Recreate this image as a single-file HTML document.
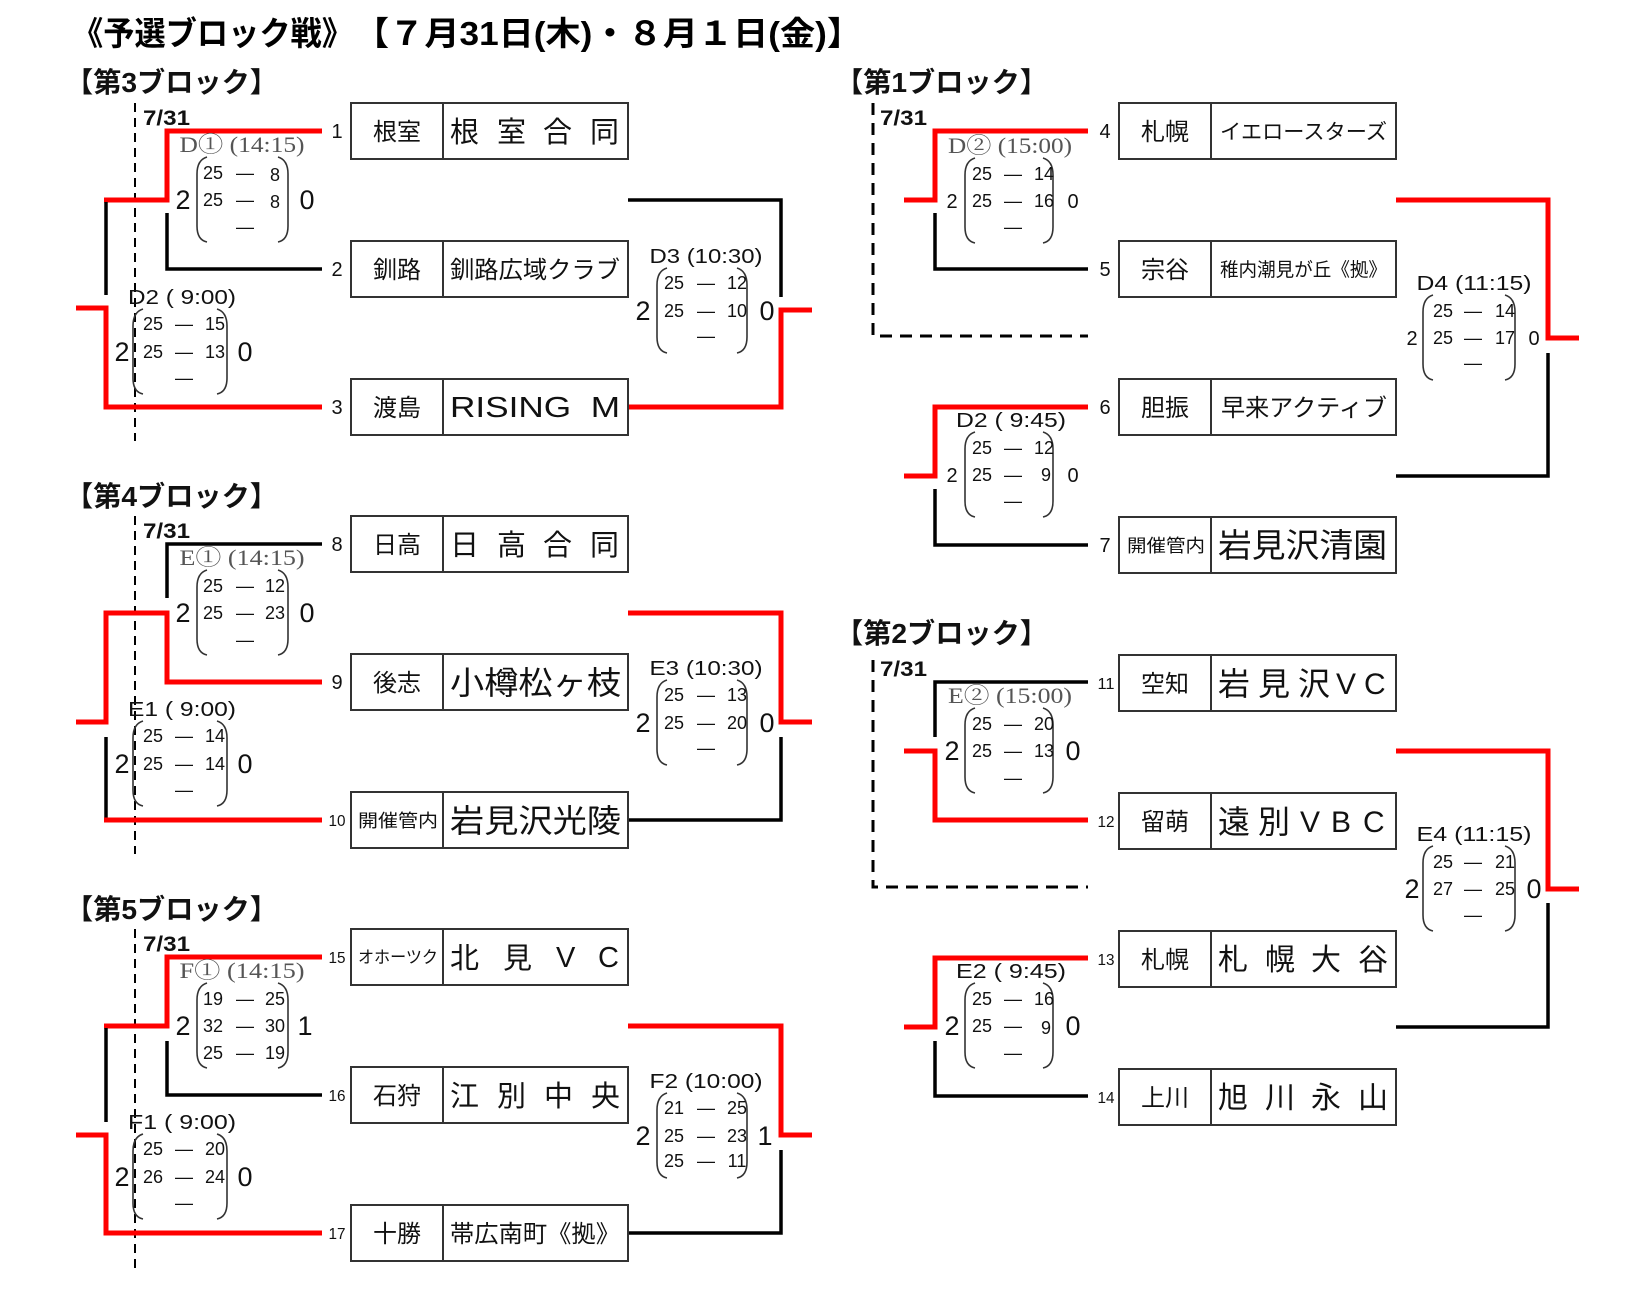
<!DOCTYPE html>
<html><head><meta charset="utf-8"><style>
html,body{margin:0;padding:0;background:#fff;}
svg{display:block;}
.jp{font-family:"Liberation Sans","Noto Sans CJK JP",sans-serif;}
.r{stroke:#ff0000;stroke-width:5;fill:none;stroke-linejoin:miter;}
.k{stroke:#000;stroke-width:3.5;fill:none;stroke-linejoin:miter;}
.dL{stroke:#000;stroke-width:2;fill:none;stroke-dasharray:9 6;}
.dR{stroke:#000;stroke-width:3;fill:none;stroke-dasharray:12 8;}
.box{stroke:#333;stroke-width:2;fill:none;}
.paren{stroke:#333;stroke-width:1.6;fill:none;}
.sc{font-family:"Liberation Sans",sans-serif;font-size:18px;text-anchor:middle;fill:#111;}
.big{font-family:"Liberation Sans",sans-serif;font-size:27px;text-anchor:middle;fill:#111;}
.mid{font-family:"Liberation Sans",sans-serif;font-size:20px;text-anchor:middle;fill:#111;}
.lbl{font-family:"Liberation Sans",sans-serif;font-size:20px;text-anchor:middle;fill:#111;white-space:pre;}
.lblS{font-family:"Liberation Serif","Noto Serif CJK SC",serif;font-size:22px;text-anchor:middle;fill:#555;white-space:pre;}
.num{font-family:"Liberation Sans",sans-serif;font-size:20px;text-anchor:middle;fill:#111;}
.numS{font-family:"Liberation Sans",sans-serif;font-size:16px;text-anchor:middle;fill:#111;}
.cell{font-family:"Liberation Sans","Noto Sans CJK JP",sans-serif;font-size:24px;text-anchor:middle;fill:#111;}
.name{font-family:"Liberation Sans","Noto Sans CJK JP",sans-serif;fill:#111;}
.date{font-family:"Liberation Sans",sans-serif;font-weight:bold;font-size:21px;fill:#111;}
.hdr{font-family:"Liberation Sans","Noto Sans CJK JP",sans-serif;font-weight:bold;font-size:28px;fill:#111;}
</style></head><body>
<svg width="1630" height="1292" viewBox="0 0 1630 1292" xmlns="http://www.w3.org/2000/svg">
<rect x="0" y="0" width="1630" height="1292" fill="#fff"/>

<!-- Title -->
<text class="jp" x="72" y="45" font-size="33" font-weight="bold" textLength="281" lengthAdjust="spacingAndGlyphs">《予選ブロック戦》</text>
<text class="jp" x="354" y="45" font-size="33" font-weight="bold" textLength="508" lengthAdjust="spacingAndGlyphs">【７月31日(木)・８月１日(金)】</text>

<!-- Block headers -->
<text class="hdr" x="65" y="92" textLength="213" lengthAdjust="spacingAndGlyphs">【第3ブロック】</text>
<text class="hdr" x="65" y="506" textLength="213" lengthAdjust="spacingAndGlyphs">【第4ブロック】</text>
<text class="hdr" x="65" y="919" textLength="213" lengthAdjust="spacingAndGlyphs">【第5ブロック】</text>
<text class="hdr" x="835" y="92" textLength="213" lengthAdjust="spacingAndGlyphs">【第1ブロック】</text>
<text class="hdr" x="835" y="643" textLength="213" lengthAdjust="spacingAndGlyphs">【第2ブロック】</text>

<!-- Dates -->
<text class="date" x="143" y="125" textLength="47" lengthAdjust="spacingAndGlyphs">7/31</text>
<text class="date" x="143" y="538" textLength="47" lengthAdjust="spacingAndGlyphs">7/31</text>
<text class="date" x="143" y="951" textLength="47" lengthAdjust="spacingAndGlyphs">7/31</text>
<text class="date" x="880" y="125" textLength="47" lengthAdjust="spacingAndGlyphs">7/31</text>
<text class="date" x="880" y="676" textLength="47" lengthAdjust="spacingAndGlyphs">7/31</text>

<!-- Dashed lines -->
<line class="dL" x1="135" y1="103" x2="135" y2="441"/>
<line class="dL" x1="135" y1="516" x2="135" y2="854"/>
<line class="dL" x1="135" y1="929" x2="135" y2="1268"/>
<path class="dR" d="M873,103 V336 H1088"/>
<path class="dR" d="M873,660 V887 H1088"/>

<!-- Left block 3 lines -->
<polyline class="r" points="322,131 167,131 167,200 104,200"/>
<polyline class="k" points="167,213 167,269 322,269"/>
<polyline class="k" points="106,202 106,295"/>
<polyline class="r" points="76,308 106,308 106,407 322,407"/>
<polyline class="k" points="628,200 781,200 781,297"/>
<polyline class="r" points="628,407 781,407 781,310 812,310"/>

<!-- Left block 4 lines -->
<polyline class="k" points="322,544 167,544 167,598"/>
<polyline class="r" points="76,722 106,722 106,613 167,613 167,682 322,682"/>
<polyline class="k" points="106,737 106,820"/>
<polyline class="r" points="104,820 322,820"/>
<polyline class="r" points="628,613 781,613 781,722 812,722"/>
<polyline class="k" points="628,820 781,820 781,737"/>

<!-- Left block 5 lines -->
<polyline class="r" points="322,957 167,957 167,1026 104,1026"/>
<polyline class="k" points="167,1041 167,1095 322,1095"/>
<polyline class="k" points="106,1028 106,1122"/>
<polyline class="r" points="76,1135 106,1135 106,1233 322,1233"/>
<polyline class="r" points="628,1026 781,1026 781,1135 812,1135"/>
<polyline class="k" points="628,1233 781,1233 781,1150"/>

<!-- Right block 1 lines -->
<polyline class="r" points="1088,131 935,131 935,200 904,200"/>
<polyline class="k" points="935,213 935,269 1088,269"/>
<polyline class="r" points="1088,407 935,407 935,476 904,476"/>
<polyline class="k" points="935,489 935,545 1088,545"/>
<polyline class="r" points="1396,200 1548,200 1548,338 1579,338"/>
<polyline class="k" points="1396,476 1548,476 1548,353"/>

<!-- Right block 2 lines -->
<polyline class="k" points="1088,682 935,682 935,737"/>
<polyline class="r" points="904,751 935,751 935,820 1088,820"/>
<polyline class="r" points="1088,958 935,958 935,1027 904,1027"/>
<polyline class="k" points="935,1041 935,1096 1088,1096"/>
<polyline class="r" points="1396,751 1548,751 1548,889 1579,889"/>
<polyline class="k" points="1396,1027 1548,1027 1548,903"/>

<!-- Left boxes -->
<g>
<rect class="box" x="351" y="103" width="277" height="56"/><line class="box" x1="443" y1="103" x2="443" y2="159"/>
<rect class="box" x="351" y="241" width="277" height="56"/><line class="box" x1="443" y1="241" x2="443" y2="297"/>
<rect class="box" x="351" y="379" width="277" height="56"/><line class="box" x1="443" y1="379" x2="443" y2="435"/>
<rect class="box" x="351" y="516" width="277" height="56"/><line class="box" x1="443" y1="516" x2="443" y2="572"/>
<rect class="box" x="351" y="654" width="277" height="56"/><line class="box" x1="443" y1="654" x2="443" y2="710"/>
<rect class="box" x="351" y="792" width="277" height="56"/><line class="box" x1="443" y1="792" x2="443" y2="848"/>
<rect class="box" x="351" y="929" width="277" height="56"/><line class="box" x1="443" y1="929" x2="443" y2="985"/>
<rect class="box" x="351" y="1067" width="277" height="56"/><line class="box" x1="443" y1="1067" x2="443" y2="1123"/>
<rect class="box" x="351" y="1205" width="277" height="56"/><line class="box" x1="443" y1="1205" x2="443" y2="1261"/>
</g>
<!-- Right boxes -->
<g>
<rect class="box" x="1119" y="103" width="277" height="56"/><line class="box" x1="1211" y1="103" x2="1211" y2="159"/>
<rect class="box" x="1119" y="241" width="277" height="56"/><line class="box" x1="1211" y1="241" x2="1211" y2="297"/>
<rect class="box" x="1119" y="379" width="277" height="56"/><line class="box" x1="1211" y1="379" x2="1211" y2="435"/>
<rect class="box" x="1119" y="517" width="277" height="56"/><line class="box" x1="1211" y1="517" x2="1211" y2="573"/>
<rect class="box" x="1119" y="655" width="277" height="56"/><line class="box" x1="1211" y1="655" x2="1211" y2="711"/>
<rect class="box" x="1119" y="793" width="277" height="56"/><line class="box" x1="1211" y1="793" x2="1211" y2="849"/>
<rect class="box" x="1119" y="931" width="277" height="56"/><line class="box" x1="1211" y1="931" x2="1211" y2="987"/>
<rect class="box" x="1119" y="1069" width="277" height="56"/><line class="box" x1="1211" y1="1069" x2="1211" y2="1125"/>
</g>

<!-- Left numbers -->
<text class="num" x="337" y="138">1</text>
<text class="num" x="337" y="276">2</text>
<text class="num" x="337" y="414">3</text>
<text class="num" x="337" y="551">8</text>
<text class="num" x="337" y="689">9</text>
<text class="numS" x="337" y="826" textLength="17" lengthAdjust="spacingAndGlyphs">10</text>
<text class="numS" x="337" y="963" textLength="17" lengthAdjust="spacingAndGlyphs">15</text>
<text class="numS" x="337" y="1101" textLength="17" lengthAdjust="spacingAndGlyphs">16</text>
<text class="numS" x="337" y="1239" textLength="17" lengthAdjust="spacingAndGlyphs">17</text>
<!-- Right numbers -->
<text class="num" x="1105" y="138">4</text>
<text class="num" x="1105" y="276">5</text>
<text class="num" x="1105" y="414">6</text>
<text class="num" x="1105" y="552">7</text>
<text class="numS" x="1106" y="689" textLength="17" lengthAdjust="spacingAndGlyphs">11</text>
<text class="numS" x="1106" y="827" textLength="17" lengthAdjust="spacingAndGlyphs">12</text>
<text class="numS" x="1106" y="965" textLength="17" lengthAdjust="spacingAndGlyphs">13</text>
<text class="numS" x="1106" y="1103" textLength="17" lengthAdjust="spacingAndGlyphs">14</text>

<!-- Left cell texts -->
<text class="cell" x="397" y="140">根室</text>
<text class="cell" x="397" y="278">釧路</text>
<text class="cell" x="397" y="416">渡島</text>
<text class="cell" x="397" y="553">日高</text>
<text class="cell" x="397" y="691">後志</text>
<text class="name" x="358" y="827" font-size="18" textLength="80" lengthAdjust="spacingAndGlyphs">開催管内</text>
<text class="name" x="358" y="963" font-size="17" textLength="80" lengthAdjust="spacingAndGlyphs">オホーツク</text>
<text class="cell" x="397" y="1104">石狩</text>
<text class="cell" x="397" y="1242">十勝</text>

<text class="cell" x="1165" y="140">札幌</text>
<text class="cell" x="1165" y="278">宗谷</text>
<text class="cell" x="1165" y="416">胆振</text>
<text class="name" x="1127" y="552" font-size="18" textLength="78" lengthAdjust="spacingAndGlyphs">開催管内</text>
<text class="cell" x="1165" y="692">空知</text>
<text class="cell" x="1165" y="830">留萌</text>
<text class="cell" x="1165" y="968">札幌</text>
<text class="cell" x="1165" y="1106">上川</text>

<!-- Left team names -->
<text class="name" x="450 497 543 590" y="142" font-size="29">根室合同</text>
<text class="name" x="450" y="278" font-size="24" textLength="170" lengthAdjust="spacingAndGlyphs">釧路広域クラブ</text>
<text class="name" x="450" y="417" font-size="29" textLength="170" lengthAdjust="spacingAndGlyphs" style="white-space:pre">RISING  M</text>
<text class="name" x="450 497 543 590" y="555" font-size="29">日高合同</text>
<text class="name" x="450" y="694" font-size="32" textLength="171" lengthAdjust="spacingAndGlyphs">小樽松ヶ枝</text>
<text class="name" x="450" y="832" font-size="32" textLength="171" lengthAdjust="spacingAndGlyphs">岩見沢光陵</text>
<text class="name" x="450 503" y="968" font-size="29">北見</text>
<text class="name" x="556 598" y="967" font-size="29">VC</text>
<text class="name" x="450 497 544 591" y="1106" font-size="29">江別中央</text>
<text class="name" x="450" y="1242" font-size="24" textLength="170" lengthAdjust="spacingAndGlyphs">帯広南町《拠》</text>

<!-- Right team names -->
<text class="name" x="1220" y="139" font-size="21" textLength="167" lengthAdjust="spacingAndGlyphs">イエロースターズ</text>
<text class="name" x="1220" y="276" font-size="19" textLength="167" lengthAdjust="spacingAndGlyphs">稚内潮見が丘《拠》</text>
<text class="name" x="1221" y="416" font-size="24" textLength="166" lengthAdjust="spacingAndGlyphs">早来アクティブ</text>
<text class="name" x="1218" y="557" font-size="33" textLength="169" lengthAdjust="spacingAndGlyphs">岩見沢清園</text>
<text class="name" x="1218 1258 1298" y="695" font-size="32">岩見沢</text>
<text class="name" x="1336 1364" y="694" font-size="30">VC</text>
<text class="name" x="1218 1258" y="833" font-size="32">遠別</text>
<text class="name" x="1300 1331 1363" y="832" font-size="30">VBC</text>
<text class="name" x="1218 1265 1311 1358" y="970" font-size="30">札幌大谷</text>
<text class="name" x="1218 1265 1311 1358" y="1108" font-size="30">旭川永山</text>

<!-- ===== Score blocks ===== -->
<!-- D① -->
<g transform="translate(242,200)">
<text class="lblS" x="0" y="-48" textLength="125" lengthAdjust="spacingAndGlyphs">D① (14:15)</text>
<path class="paren" d="M-35,-43 Q-45,-40 -45,-26 L-45,26 Q-45,40 -35,42 M36,-43 Q46,-40 46,-26 L46,26 Q46,40 36,42"/>
<text class="sc" x="-29" y="-21">25</text><text class="sc" x="3" y="-21">—</text><text class="sc" x="33" y="-19" font-size="23">8</text>
<text class="sc" x="-29" y="6">25</text><text class="sc" x="3" y="6">—</text><text class="sc" x="33" y="8" font-size="23">8</text>
<text class="sc" x="3" y="33">—</text>
<text class="big" x="-59" y="9">2</text><text class="big" x="65" y="9">0</text>
</g>
<!-- D2 9:00 -->
<g transform="translate(180,352)">
<text class="lbl" x="2" y="-48" textLength="108" lengthAdjust="spacingAndGlyphs">D2 ( 9:00)</text>
<path class="paren" d="M-37,-43 Q-47,-40 -47,-26 L-47,26 Q-47,40 -37,42 M37,-43 Q47,-40 47,-26 L47,26 Q47,40 37,42"/>
<text class="sc" x="-27" y="-22">25</text><text class="sc" x="4" y="-22">—</text><text class="sc" x="35" y="-22">15</text>
<text class="sc" x="-27" y="6">25</text><text class="sc" x="4" y="6">—</text><text class="sc" x="35" y="6">13</text>
<text class="sc" x="4" y="32">—</text>
<text class="big" x="-58" y="9">2</text><text class="big" x="65" y="9">0</text>
</g>
<!-- D3 -->
<g transform="translate(702,311)">
<text class="lbl" x="4" y="-48" textLength="113" lengthAdjust="spacingAndGlyphs">D3 (10:30)</text>
<path class="paren" d="M-35,-43 Q-45,-40 -45,-26 L-45,26 Q-45,40 -35,42 M35,-43 Q45,-40 45,-26 L45,26 Q45,40 35,42"/>
<text class="sc" x="-28" y="-22">25</text><text class="sc" x="4" y="-22">—</text><text class="sc" x="35" y="-22">12</text>
<text class="sc" x="-28" y="6">25</text><text class="sc" x="4" y="6">—</text><text class="sc" x="35" y="6">10</text>
<text class="sc" x="4" y="31">—</text>
<text class="big" x="-59" y="9">2</text><text class="big" x="65" y="9">0</text>
</g>

<!-- E① -->
<g transform="translate(242,613)">
<text class="lblS" x="0" y="-48" textLength="125" lengthAdjust="spacingAndGlyphs">E① (14:15)</text>
<path class="paren" d="M-35,-43 Q-45,-40 -45,-26 L-45,26 Q-45,40 -35,42 M36,-43 Q46,-40 46,-26 L46,26 Q46,40 36,42"/>
<text class="sc" x="-29" y="-21">25</text><text class="sc" x="3" y="-21">—</text><text class="sc" x="33" y="-21">12</text>
<text class="sc" x="-29" y="6">25</text><text class="sc" x="3" y="6">—</text><text class="sc" x="33" y="6">23</text>
<text class="sc" x="3" y="33">—</text>
<text class="big" x="-59" y="9">2</text><text class="big" x="65" y="9">0</text>
</g>
<!-- E1 -->
<g transform="translate(180,764)">
<text class="lbl" x="2" y="-48" textLength="108" lengthAdjust="spacingAndGlyphs">E1 ( 9:00)</text>
<path class="paren" d="M-37,-43 Q-47,-40 -47,-26 L-47,26 Q-47,40 -37,42 M37,-43 Q47,-40 47,-26 L47,26 Q47,40 37,42"/>
<text class="sc" x="-27" y="-22">25</text><text class="sc" x="4" y="-22">—</text><text class="sc" x="35" y="-22">14</text>
<text class="sc" x="-27" y="6">25</text><text class="sc" x="4" y="6">—</text><text class="sc" x="35" y="6">14</text>
<text class="sc" x="4" y="32">—</text>
<text class="big" x="-58" y="9">2</text><text class="big" x="65" y="9">0</text>
</g>
<!-- E3 -->
<g transform="translate(702,723)">
<text class="lbl" x="4" y="-48" textLength="113" lengthAdjust="spacingAndGlyphs">E3 (10:30)</text>
<path class="paren" d="M-35,-43 Q-45,-40 -45,-26 L-45,26 Q-45,40 -35,42 M35,-43 Q45,-40 45,-26 L45,26 Q45,40 35,42"/>
<text class="sc" x="-28" y="-22">25</text><text class="sc" x="4" y="-22">—</text><text class="sc" x="35" y="-22">13</text>
<text class="sc" x="-28" y="6">25</text><text class="sc" x="4" y="6">—</text><text class="sc" x="35" y="6">20</text>
<text class="sc" x="4" y="31">—</text>
<text class="big" x="-59" y="9">2</text><text class="big" x="65" y="9">0</text>
</g>

<!-- F① -->
<g transform="translate(242,1026)">
<text class="lblS" x="0" y="-48" textLength="125" lengthAdjust="spacingAndGlyphs">F① (14:15)</text>
<path class="paren" d="M-35,-43 Q-45,-40 -45,-26 L-45,26 Q-45,40 -35,42 M36,-43 Q46,-40 46,-26 L46,26 Q46,40 36,42"/>
<text class="sc" x="-29" y="-21">19</text><text class="sc" x="3" y="-21">—</text><text class="sc" x="33" y="-21">25</text>
<text class="sc" x="-29" y="6">32</text><text class="sc" x="3" y="6">—</text><text class="sc" x="33" y="6">30</text>
<text class="sc" x="-29" y="33">25</text><text class="sc" x="3" y="33">—</text><text class="sc" x="33" y="33">19</text>
<text class="big" x="-59" y="9">2</text><text class="big" x="63" y="9">1</text>
</g>
<!-- F1 -->
<g transform="translate(180,1177)">
<text class="lbl" x="2" y="-48" textLength="108" lengthAdjust="spacingAndGlyphs">F1 ( 9:00)</text>
<path class="paren" d="M-37,-43 Q-47,-40 -47,-26 L-47,26 Q-47,40 -37,42 M37,-43 Q47,-40 47,-26 L47,26 Q47,40 37,42"/>
<text class="sc" x="-27" y="-22">25</text><text class="sc" x="4" y="-22">—</text><text class="sc" x="35" y="-22">20</text>
<text class="sc" x="-27" y="6">26</text><text class="sc" x="4" y="6">—</text><text class="sc" x="35" y="6">24</text>
<text class="sc" x="4" y="32">—</text>
<text class="big" x="-58" y="9">2</text><text class="big" x="65" y="9">0</text>
</g>
<!-- F2 -->
<g transform="translate(702,1136)">
<text class="lbl" x="4" y="-48" textLength="113" lengthAdjust="spacingAndGlyphs">F2 (10:00)</text>
<path class="paren" d="M-35,-43 Q-45,-40 -45,-26 L-45,26 Q-45,40 -35,42 M35,-43 Q45,-40 45,-26 L45,26 Q45,40 35,42"/>
<text class="sc" x="-28" y="-22">21</text><text class="sc" x="4" y="-22">—</text><text class="sc" x="35" y="-22">25</text>
<text class="sc" x="-28" y="6">25</text><text class="sc" x="4" y="6">—</text><text class="sc" x="35" y="6">23</text>
<text class="sc" x="-28" y="31">25</text><text class="sc" x="4" y="31">—</text><text class="sc" x="35" y="31">11</text>
<text class="big" x="-59" y="9">2</text><text class="big" x="63" y="9">1</text>
</g>

<!-- D② -->
<g transform="translate(1009,201)">
<text class="lblS" x="1" y="-48" textLength="124" lengthAdjust="spacingAndGlyphs">D② (15:00)</text>
<path class="paren" d="M-34,-43 Q-44,-40 -44,-26 L-44,26 Q-44,40 -34,42 M34,-43 Q44,-40 44,-26 L44,26 Q44,40 34,42"/>
<text class="sc" x="-27" y="-21">25</text><text class="sc" x="4" y="-21">—</text><text class="sc" x="35" y="-21">14</text>
<text class="sc" x="-27" y="6">25</text><text class="sc" x="4" y="6">—</text><text class="sc" x="35" y="6">16</text>
<text class="sc" x="4" y="32">—</text>
<text class="mid" x="-57" y="7">2</text><text class="mid" x="64" y="7">0</text>
</g>
<!-- D2 9:45 -->
<g transform="translate(1009,475)">
<text class="lbl" x="2" y="-48" textLength="110" lengthAdjust="spacingAndGlyphs">D2 ( 9:45)</text>
<path class="paren" d="M-34,-43 Q-44,-40 -44,-26 L-44,26 Q-44,40 -34,42 M34,-43 Q44,-40 44,-26 L44,26 Q44,40 34,42"/>
<text class="sc" x="-27" y="-21">25</text><text class="sc" x="4" y="-21">—</text><text class="sc" x="35" y="-21">12</text>
<text class="sc" x="-27" y="6">25</text><text class="sc" x="4" y="6">—</text><text class="sc" x="37" y="6">9</text>
<text class="sc" x="4" y="32">—</text>
<text class="mid" x="-57" y="7">2</text><text class="mid" x="64" y="7">0</text>
</g>
<!-- D4 -->
<g transform="translate(1469,338)">
<text class="lbl" x="5" y="-48" textLength="115" lengthAdjust="spacingAndGlyphs">D4 (11:15)</text>
<path class="paren" d="M-36,-43 Q-46,-40 -46,-26 L-46,26 Q-46,40 -36,42 M36,-43 Q46,-40 46,-26 L46,26 Q46,40 36,42"/>
<text class="sc" x="-26" y="-21">25</text><text class="sc" x="4" y="-21">—</text><text class="sc" x="36" y="-21">14</text>
<text class="sc" x="-26" y="6">25</text><text class="sc" x="4" y="6">—</text><text class="sc" x="36" y="6">17</text>
<text class="sc" x="4" y="31">—</text>
<text class="mid" x="-57" y="7">2</text><text class="mid" x="65" y="7">0</text>
</g>

<!-- E② -->
<g transform="translate(1009,751)">
<text class="lblS" x="1" y="-48" textLength="124" lengthAdjust="spacingAndGlyphs">E② (15:00)</text>
<path class="paren" d="M-34,-43 Q-44,-40 -44,-26 L-44,26 Q-44,40 -34,42 M34,-43 Q44,-40 44,-26 L44,26 Q44,40 34,42"/>
<text class="sc" x="-27" y="-21">25</text><text class="sc" x="4" y="-21">—</text><text class="sc" x="35" y="-21">20</text>
<text class="sc" x="-27" y="6">25</text><text class="sc" x="4" y="6">—</text><text class="sc" x="35" y="6">13</text>
<text class="sc" x="4" y="33">—</text>
<text class="big" x="-57" y="9">2</text><text class="big" x="64" y="9">0</text>
</g>
<!-- E2 9:45 -->
<g transform="translate(1009,1026)">
<text class="lbl" x="2" y="-48" textLength="110" lengthAdjust="spacingAndGlyphs">E2 ( 9:45)</text>
<path class="paren" d="M-34,-43 Q-44,-40 -44,-26 L-44,26 Q-44,40 -34,42 M34,-43 Q44,-40 44,-26 L44,26 Q44,40 34,42"/>
<text class="sc" x="-27" y="-21">25</text><text class="sc" x="4" y="-21">—</text><text class="sc" x="35" y="-21">16</text>
<text class="sc" x="-27" y="6">25</text><text class="sc" x="4" y="6">—</text><text class="sc" x="37" y="8" font-size="22">9</text>
<text class="sc" x="4" y="33">—</text>
<text class="big" x="-57" y="9">2</text><text class="big" x="64" y="9">0</text>
</g>
<!-- E4 -->
<g transform="translate(1469,889)">
<text class="lbl" x="5" y="-48" textLength="115" lengthAdjust="spacingAndGlyphs">E4 (11:15)</text>
<path class="paren" d="M-36,-43 Q-46,-40 -46,-26 L-46,26 Q-46,40 -36,42 M36,-43 Q46,-40 46,-26 L46,26 Q46,40 36,42"/>
<text class="sc" x="-26" y="-21">25</text><text class="sc" x="4" y="-21">—</text><text class="sc" x="36" y="-21">21</text>
<text class="sc" x="-26" y="6">27</text><text class="sc" x="4" y="6">—</text><text class="sc" x="36" y="6">25</text>
<text class="sc" x="4" y="32">—</text>
<text class="big" x="-57" y="9">2</text><text class="big" x="65" y="9">0</text>
</g>
</svg>
</body></html>
